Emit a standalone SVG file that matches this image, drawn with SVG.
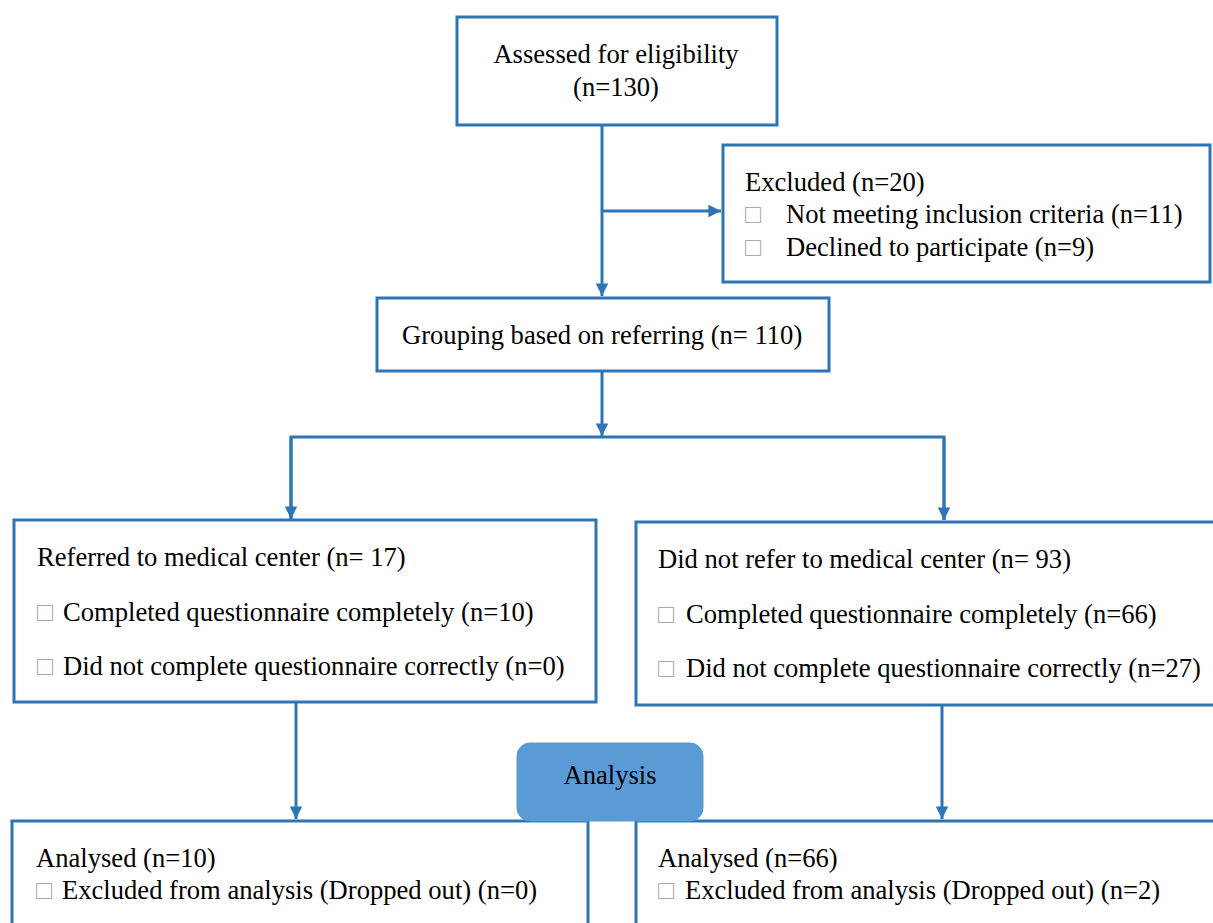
<svg xmlns="http://www.w3.org/2000/svg" width="1213" height="923" viewBox="0 0 1213 923">
<style>
.box{fill:#fff;stroke:#2E75B6;stroke-width:3}
.t{font-family:"Liberation Serif","Times New Roman",serif;font-size:26.6px;fill:#000}
.b{fill:#aaa}
.ln{fill:none;stroke:#2E75B6;stroke-width:3}
</style>
<defs>
<marker id="ah" viewBox="0 0 10 10" refX="10" refY="5" markerWidth="4.2" markerHeight="4.2" orient="auto" markerUnits="strokeWidth">
<path d="M0,0 L10,5 L0,10 z" fill="#2E75B6"/>
</marker>
</defs>
<rect width="1213" height="923" fill="#fff"/>
<g id="connectors">
<line class="ln" x1="602" y1="125" x2="602" y2="296" marker-end="url(#ah)"/>
<line class="ln" x1="602" y1="211" x2="721" y2="211" marker-end="url(#ah)"/>
<line class="ln" x1="602" y1="371" x2="602" y2="436" marker-end="url(#ah)"/>
<polyline class="ln" points="291,519 291,437 944,437 944,520"/>
<line class="ln" x1="291" y1="437" x2="291" y2="519" marker-end="url(#ah)"/>
<line class="ln" x1="944" y1="437" x2="944" y2="520" marker-end="url(#ah)"/>
<line class="ln" x1="296" y1="702" x2="296" y2="819" marker-end="url(#ah)"/>
<line class="ln" x1="942" y1="705" x2="942" y2="819" marker-end="url(#ah)"/>
</g>
<g id="assessed">
<rect class="box" x="457" y="17" width="320" height="108"/>
<text class="t" x="616" y="63" text-anchor="middle">Assessed for eligibility</text>
<text class="t" x="616" y="96" text-anchor="middle">(n=130)</text>
</g>
<g id="excluded">
<rect class="box" x="723" y="145" width="487" height="137"/>
<text class="t" x="745" y="191">Excluded (n=20)</text>
<text class="t" x="745" y="223"><tspan class="b">□</tspan><tspan x="786">Not meeting inclusion criteria (n=11)</tspan></text>
<text class="t" x="745" y="256"><tspan class="b">□</tspan><tspan x="786">Declined to participate (n=9)</tspan></text>
</g>
<g id="grouping">
<rect class="box" x="377" y="298" width="452" height="73"/>
<text class="t" x="402" y="344">Grouping based on referring (n= 110)</text>
</g>
<g id="referred">
<rect class="box" x="14" y="520" width="582" height="182"/>
<text class="t" x="37" y="566">Referred to medical center (n= 17)</text>
<text class="t" x="37" y="621"><tspan class="b">□</tspan><tspan x="63">Completed questionnaire completely (n=10)</tspan></text>
<text class="t" x="37" y="675"><tspan class="b">□</tspan><tspan x="63">Did not complete questionnaire correctly (n=0)</tspan></text>
</g>
<g id="notreferred">
<rect class="box" x="636" y="522" width="590" height="183"/>
<text class="t" x="658" y="568">Did not refer to medical center (n= 93)</text>
<text class="t" x="658" y="623"><tspan class="b">□</tspan><tspan x="686">Completed questionnaire completely (n=66)</tspan></text>
<text class="t" x="658" y="677"><tspan class="b">□</tspan><tspan x="686">Did not complete questionnaire correctly (n=27)</tspan></text>
</g>
<g id="analysed-left">
<rect class="box" x="12" y="821" width="576" height="130"/>
<text class="t" x="36" y="867">Analysed (n=10)</text>
<text class="t" x="36" y="899"><tspan class="b">□</tspan><tspan x="62">Excluded from analysis (Dropped out) (n=0)</tspan></text>
</g>
<g id="analysed-right">
<rect class="box" x="636" y="821" width="600" height="130"/>
<text class="t" x="658" y="867">Analysed (n=66)</text>
<text class="t" x="658" y="899"><tspan class="b">□</tspan><tspan x="685">Excluded from analysis (Dropped out) (n=2)</tspan></text>
</g>
<g id="analysis">
<rect x="517" y="743" width="186" height="78" rx="13" fill="#5B9BD5" stroke="#5B9BD5" stroke-width="1"/>
<text class="t" x="610" y="784" text-anchor="middle">Analysis</text>
</g>
</svg>
